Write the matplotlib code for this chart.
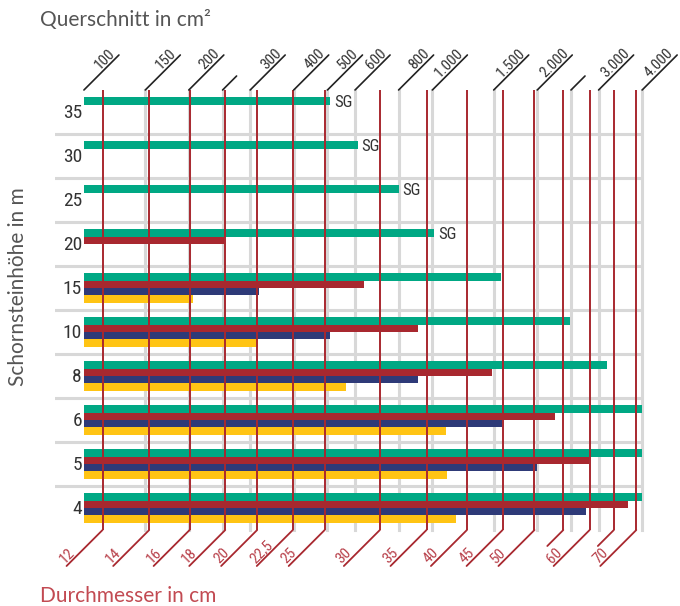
import numpy as np
import matplotlib
matplotlib.use('Agg')
import matplotlib.pyplot as plt
from matplotlib import font_manager

# chimney heights (m), top to bottom
heights = ['35', '30', '25', '20', '15', '10', '8', '6', '5', '4']

# bar ends, cross-section in cm^2 (bars start at 100)
green = [510, 610, 800, 1010, 1570, 2480, 3180, 4000, 4000, 4000]
red = [np.nan, np.nan, np.nan, 252, 636, 909, 1486, 2244, 2816, 3637]
blue = [np.nan, np.nan, np.nan, np.nan, 319, 508, 908, 1581, 2000, 2754]
yellow = [np.nan, np.nan, np.nan, np.nan, 205, 315, 564, 1092, 1099, 1169]
sg_rows = ['35', '30', '25', '20']

# top scale: cross-section (cm^2)
area_ticks = [150, 200, 250, 300, 400, 500, 600, 800, 1000, 1500, 2000, 2500, 3000, 4000]
area_labels = {100: '100', 150: '150', 200: '200', 300: '300', 400: '400', 500: '500',
               600: '600', 800: '800', 1000: '1.000', 1500: '1.500', 2000: '2.000',
               3000: '3.000', 4000: '4.000'}

# bottom scale: diameter (cm)
diameters = [12, 14, 16, 18, 20, 22.5, 25, 30, 35, 40, 45, 50, 55, 60, 65, 70]
diam_labels = {12: '12', 14: '14', 16: '16', 18: '18', 20: '20', 22.5: '22,5', 25: '25',
               30: '30', 35: '35', 40: '40', 45: '45', 50: '50', 60: '60', 70: '70'}

GREEN = '#00a884'
RED = '#a8282f'
BLUE = '#2e3a78'
YELLOW = '#ffc414'
GRID = '#d8d8d8'
LINE_RED = '#a8282f'
TXT = '#333333'
TXT_RED = '#b8404a'


def pick(cands):
    names = {f.name for f in font_manager.fontManager.ttflist}
    for c in cands:
        if c in names:
            return c
    return 'DejaVu Sans'


narrow = pick(['Liberation Sans Narrow', 'DejaVu Sans Condensed', 'Roboto Condensed', 'Liberation Sans'])
light = pick(['Lato', 'Open Sans', 'DejaVu Sans'])

fig = plt.figure(figsize=(6.8, 6.06), dpi=100)
ax = fig.add_axes([55 / 680, 76 / 606, 588 / 680, 440 / 606])
ax.set_xscale('log')
ax.set_xlim(82.6, 4023)
ax.set_ylim(60, 0)
ax.axis('off')

n = len(heights)
# grid
for v in area_ticks:
    ax.axvline(v, color=GRID, lw=2.2, zorder=0, clip_on=False)
for i in range(1, n):
    ax.axhline(6 * i, color=GRID, lw=2.2, zorder=0)

# bars
y0 = np.arange(n) * 6
for k, (vals, col) in enumerate([(green, GREEN), (red, RED), (blue, BLUE), (yellow, YELLOW)]):
    vals = np.array(vals, dtype=float)
    ok = ~np.isnan(vals)
    ax.barh(y0[ok] + 1.5 + k, vals[ok] - 100, left=100, height=1.0, color=col,
            edgecolor='none', zorder=2)

# SG labels
for h in sg_rows:
    i = heights.index(h)
    ax.annotate('SG', xy=(green[i], y0[i] + 1.7), xytext=(4, 0), textcoords='offset pixels',
                ha='left', va='center', fontsize=12, color=TXT, family=narrow)

# row labels
for i, h in enumerate(heights):
    ax.annotate(h, xy=(100, y0[i] + 3.2), xytext=(-2, 0), textcoords='offset pixels',
                ha='right', va='center', fontsize=14, color=TXT, family=narrow)

# red diameter lines
for d in diameters:
    a = np.pi * d ** 2 / 4
    ax.axvline(a, color=LINE_RED, lw=1.4, zorder=3)
    lab = diam_labels.get(d)
    L = 36 if lab else 16
    ax.annotate('', xy=(a, 0), xycoords=('data', 'axes fraction'),
                xytext=(-L, -L), textcoords='offset pixels',
                arrowprops=dict(arrowstyle='-', color=LINE_RED, lw=1.3, shrinkA=0, shrinkB=0),
                annotation_clip=False)
    if lab:
        ax.annotate(lab, xy=(a, 0), xycoords=('data', 'axes fraction'),
                    xytext=(-L, -L), textcoords='offset pixels',
                    ha='left', va='bottom', rotation=45, rotation_mode='anchor',
                    fontsize=11, color=TXT_RED, family=narrow, annotation_clip=False)

# top cross-section ticks
for v in [100] + area_ticks:
    lab = area_labels.get(v)
    L = 35 if lab else 14
    ax.annotate('', xy=(v, 1), xycoords=('data', 'axes fraction'),
                xytext=(L, L), textcoords='offset pixels',
                arrowprops=dict(arrowstyle='-', color='#222222', lw=1.2, shrinkA=0, shrinkB=0),
                annotation_clip=False)
    if lab:
        ax.annotate(lab, xy=(v, 1), xycoords=('data', 'axes fraction'),
                    xytext=(L - 1, L - 1), textcoords='offset pixels',
                    ha='right', va='bottom', rotation=45, rotation_mode='anchor',
                    fontsize=11, color=TXT, family=narrow, annotation_clip=False)

fig.text(40 / 680, 1 - 20 / 606, 'Querschnitt in cm²', ha='left', va='center',
         fontsize=15, color='#555555', family=light)
fig.text(40 / 680, 1 - 596 / 606, 'Durchmesser in cm', ha='left', va='center',
         fontsize=15, color='#c24a52', family=light)
fig.text(18 / 680, 1 - 287 / 606, 'Schornsteinhöhe in m', ha='center', va='center',
         rotation=90, fontsize=15, color='#555555', family=light)

fig.savefig('out.png', dpi=100)
